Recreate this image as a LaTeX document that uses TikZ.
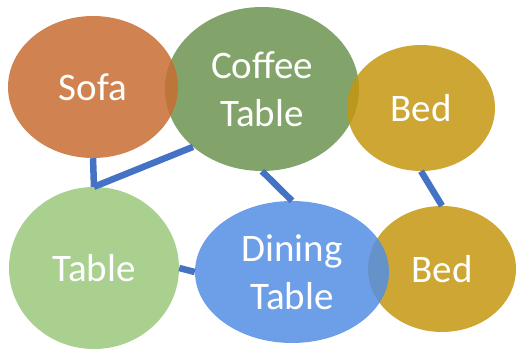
\documentclass[tikz,border=0pt]{standalone}
\usepackage{fontspec}
\setmainfont{Carlito}
\usepackage{xcolor}
\usepackage{tikz}
\usetikzlibrary{shapes.geometric}

\definecolor{sofacol}{RGB}{200,109,49}
\definecolor{coffeecol}{RGB}{108,148,81}
\definecolor{bedcol}{RGB}{196,150,16}
\definecolor{tablecol}{RGB}{154,200,122}
\definecolor{diningcol}{RGB}{84,142,229}
\definecolor{linkcol}{RGB}{68,114,196}

\begin{document}
\begin{tikzpicture}[node distance=180pt,
  item/.style={ellipse, inner sep=0pt, align=center, text=white, fill opacity=0.85, text opacity=1, font=\fontsize{39}{48}\selectfont},
  link/.style={draw=linkcol, line width=6.5pt}]
\useasboundingbox (0pt,0pt) rectangle (516pt,-350pt);

\node (coffee) [item, fill=coffeecol, minimum width=194pt, minimum height=164pt] at (262pt,-89pt) {Coffee\\Table};
\node (sofa) [item, fill=sofacol, minimum width=170pt, minimum height=142pt, left of=coffee, xshift=11pt, yshift=2pt] {Sofa};
\node (bedtop) [item, fill=bedcol, minimum width=148pt, minimum height=126pt, right of=coffee, xshift=-21pt, yshift=-19pt] {Bed};
\node (table) [item, fill=tablecol, minimum width=170pt, minimum height=162pt, below of=sofa, xshift=1pt, yshift=-1pt] {Table};
\node (bedlow) [item, fill=bedcol, minimum width=148pt, minimum height=126pt, right of=table, xshift=168pt, yshift=-1pt] {Bed};
\node (dining) [item, fill=diningcol, minimum width=194pt, minimum height=142pt, right of=table, xshift=18pt, yshift=-4pt] {Dining\\Table};

\draw[link] (sofa.south) -- (table.north);
\draw[link] (table.north) -- (coffee.220);
\draw[link] (coffee.south) -- (dining.north);
\draw[link] (table.east) -- (dining.west);
\draw[link] (bedtop.south) -- (bedlow.north);

\end{tikzpicture}
\end{document}
